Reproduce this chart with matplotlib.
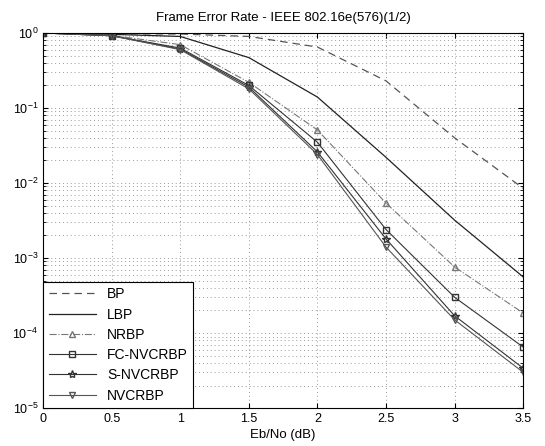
import numpy as np
import matplotlib.pyplot as plt

# =========================================================
# DATA
# =========================================================

ebno = [0.0, 0.5, 1.0, 1.5, 2.0, 2.5, 3.0, 3.5]

fer_bp = [1.0, 0.98, 0.97, 0.90, 0.65, 0.23, 0.040, 0.0085]
fer_lbp = [1.0, 0.96, 0.90, 0.47, 0.14, 0.022, 0.0032, 0.00056]
fer_nrbp = [1.0, 0.93, 0.70, 0.22, 0.051, 0.0054, 0.00076, 0.000185]
fer_fc = [1.0, 0.92, 0.63, 0.20, 0.035, 0.0024, 0.00030, 0.000065]
fer_s = [1.0, 0.92, 0.61, 0.19, 0.026, 0.0018, 0.00017, 0.000034]
fer_nv = [1.0, 0.92, 0.60, 0.18, 0.024, 0.0014, 0.00015, 0.000030]

labels = ["BP", "LBP", "NRBP", "FC-NVCRBP", "S-NVCRBP", "NVCRBP"]

xticks = [0, 0.5, 1, 1.5, 2, 2.5, 3, 3.5]

# =========================================================
# PLOT
# =========================================================

plt.rcParams['font.family'] = ['Liberation Sans', 'DejaVu Sans']

fig = plt.figure(figsize=(5.45, 4.46), dpi=100)
ax = fig.add_axes([0.079, 0.085, 0.881, 0.841])

ax.semilogy(ebno, fer_bp, linestyle=(0, (6, 4)), color="#555555",
            linewidth=0.9, label=labels[0])
ax.semilogy(ebno, fer_lbp, linestyle="-", color="#222222",
            linewidth=0.9, label=labels[1])
ax.semilogy(ebno, fer_nrbp, linestyle="-.", color="#777777",
            linewidth=0.8, marker="^", markersize=5, fillstyle="none",
            label=labels[2])
ax.semilogy(ebno, fer_fc, linestyle="-", color="#333333",
            linewidth=0.8, marker="s", markersize=5, fillstyle="none",
            label=labels[3])
ax.semilogy(ebno, fer_s, linestyle="-", color="#333333",
            linewidth=0.8, marker="*", markersize=6, fillstyle="none",
            label=labels[4])
ax.semilogy(ebno, fer_nv, linestyle="-", color="#555555",
            linewidth=0.8, marker="v", markersize=5, fillstyle="none",
            label=labels[5])

ax.set_xlim(0, 3.5)
ax.set_ylim(1e-5, 1)
ax.set_xticks(xticks)
ax.set_xticklabels([f"{t:g}" for t in xticks])

ax.grid(True, which="major", linestyle=(0, (1, 3)), color="#999999",
        linewidth=0.7)
ax.grid(True, which="minor", axis="y", linestyle=(0, (1, 3)),
        color="#999999", linewidth=0.7)

ax.tick_params(labelsize=9, direction="in", which="both", top=True,
               right=True)
for s in ax.spines.values():
    s.set_linewidth(0.8)

ax.set_title("Frame Error Rate - IEEE 802.16e(576)(1/2)", fontsize=9.5,
             pad=9)
ax.set_xlabel("Eb/No (dB)", fontsize=9.5, labelpad=3)

leg = ax.legend(loc="lower left", fontsize=10, handlelength=3.4,
                fancybox=False, framealpha=1, edgecolor="black",
                borderaxespad=0, labelspacing=0.45)
leg.get_frame().set_linewidth(0.8)

plt.savefig("out.png", dpi=100)
